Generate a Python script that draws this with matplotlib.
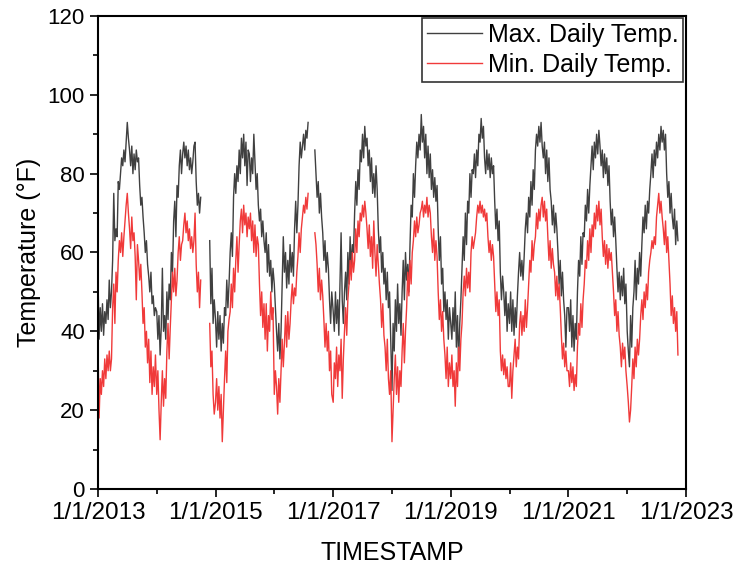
import numpy as np
import pandas as pd
import matplotlib
matplotlib.use("Agg")
import matplotlib.pyplot as plt
import matplotlib.dates as mdates
from matplotlib.ticker import MultipleLocator, FixedLocator, FuncFormatter

plt.rcParams['font.family'] = ['Liberation Sans', 'DejaVu Sans']

nan = np.nan

# weekly readings, one list per calendar year (first value = Jan 1)
max_2013 = [54, 38, 46, 40, 47, 39, 45, 42, 48, 43, 53, 46, 50, 58, 75, 63, 66, 64, 78, 76,
            80, 84, 82, 86, 83, 88, 93, 89, 86, 82, 87, 80, 85, 81, 86, 83, 84, 77, 72, 74,
            69, 65, 60, 63, 57, 54, 50, 55, 47, 49, 44, 46]
min_2013 = [37, 18, 28, 24, 30, 26, 33, 28, 34, 30, 35, 30, 33, 46, 52, 42, 55, 50, 58, 63,
            60, 65, 59, 64, 68, 72, 75, 70, 66, 61, 69, 63, 65, 59, 48, 62, 58, 53, 57, 50,
            42, 46, 36, 40, 32, 38, 27, 35, 24, 31, 26, 34]

max_2014 = [45, 38, 44, 34, 41, 56, 40, 44, 38, 50, 43, 52, 48, 60, 55, 68, 73, 64, 77, 74,
            82, 86, 80, 85, 88, 84, 87, 82, 86, 81, 84, 80, 83, 87, 88, 78, 72, 75, 70, 74,
            nan, nan, nan, nan, nan, nan, nan, 63, 47, 56, 42, 48]
min_2014 = [24, 30, 20, 12.5, 22, 30, 21, 28, 23, 35, 42, 33, 41, 48, 55, 50, 56, 49, 53, 60,
            64, 58, 62, 63, 67, 70, 65, 68, 63, 66, 61, 64, 60, 63, 70, 57, 50, 55, 46, 53,
            nan, nan, nan, nan, nan, nan, nan, 42, 31, 35, 24, 19]

max_2015 = [43, 36, 45, 38, 44, 35, 42, 37, 46, 44, 53, 46, 52, 60, 65, 59, 74, 80, 75, 82,
            78, 86, 80, 89, 84, 90, 82, 88, 77, 86, 85, 78, 84, 80, 90, 83, 76, 80, 72, 68,
            71, 64, 68, 63, 60, 65, 55, 62, 54, 58, 50, 56]
min_2015 = [22, 28, 20, 26, 18, 24, 12, 20, 28, 35, 27, 40, 43, 45, 52, 46, 56, 50, 58, 64,
            55, 62, 68, 71, 65, 72, 67, 70, 64, 69, 66, 70, 63, 68, 60, 67, 59, 64, 62, 52,
            44, 50, 41, 47, 38, 47, 35, 44, 40, 50, 43, 46]

max_2016 = [52, 46, 40, 35, 42, 33, 40, 52, 64, 55, 60, 51, 58, 52, 62, 55, 60, 54, 66, 73,
            65, 72, 82, 88, 84, 87, 90, 86, 91, 89, 93, nan, nan, nan, nan, nan, 86, 80, 74, 78,
            70, 75, 69, 65, 58, 63, 55, 60, 56, 48, 42, 50]
min_2016 = [24, 30, 26, 19, 28, 22, 30, 38, 31, 37, 44, 36, 45, 38, 42, 48, 52, 47, 51, 49,
            55, 59, 65, 60, 66, 69, 72, 70, 74, 71, 75, nan, nan, nan, nan, nan, 65, 62, 57, 50,
            56, 48, 53, 49, 43, 36, 42, 35, 40, 30, 35, 24]

max_2017 = [45, 40, 50, 42, 48, 39, 52, 65, 48, 42, 50, 55, 48, 60, 52, 64, 56, 62, 60, 70,
            78, 72, 81, 76, 86, 83, 90, 84, 92, 87, 89, 82, 86, 78, 84, 75, 80, 74, 82, 76,
            66, 60, 64, 55, 60, 52, 56, 48, 55, 46, 50, 38]
min_2017 = [22, 32, 28, 36, 26, 34, 30, 38, 23, 33, 40, 46, 39, 48, 52, 58, 53, 60, 55, 58,
            66, 60, 68, 64, 70, 68, 72, 69, 73, 70, 66, 61, 67, 59, 64, 56, 68, 60, 54, 62,
            57, 52, 48, 41, 47, 39, 36, 30, 38, 28, 24, 30]

max_2018 = [25, 42, 35, 48, 40, 52, 42, 47, 39, 50, 58, 48, 60, 53, 57, 50, 62, 72, 69, 80,
            74, 82, 88, 84, 90, 86, 95, 88, 92, 84, 90, 80, 87, 79, 85, 76, 81, 74, 79, 73,
            77, 66, 58, 64, 52, 56, 45, 50, 43, 48, 38, 46]
min_2018 = [12, 20, 28, 34, 24, 31, 22, 30, 26, 35, 42, 32, 40, 46, 55, 49, 58, 52, 60, 63,
            68, 64, 69, 65, 67, 70, 71, 73, 69, 72, 70, 74, 69, 72, 70, 64, 60, 66, 58, 63,
            59, 50, 43, 48, 40, 45, 38, 34, 28, 36, 26, 32]

max_2019 = [42, 38, 46, 40, 50, 36, 44, 32, 42, 48, 56, 64, 58, 70, 62, 73, 70, 80, 74, 81,
            80, 85, 79, 86, 82, 90, 88, 94, 89, 92, 84, 80, 86, 81, 85, 79, 84, 80, 82, 73,
            66, 71, 63, 68, 55, 48, 54, 50, 44, 50, 40, 47]
min_2019 = [28, 34, 26, 30, 21, 32, 26, 36, 30, 38, 42, 50, 54, 49, 56, 51, 55, 50, 60, 64,
            61, 63, 65, 69, 72, 70, 73, 70, 72, 69, 71, 68, 70, 64, 60, 63, 58, 62, 59, 52,
            45, 50, 44, 48, 35, 30, 34, 29, 33, 28, 31, 26]

max_2020 = [42, 50, 40, 48, 39, 46, 41, 49, 55, 60, 54, 58, 53, 59, 66, 70, 65, 74, 69, 78,
            72, 81, 76, 86, 90, 87, 92, 88, 93, 87, 84, 88, 80, 86, 78, 84, 76, 73, 67, 72,
            65, 70, 66, 60, 52, 58, 49, 55, 48, 44, 36, 46]
min_2020 = [26, 32, 23, 30, 34, 38, 31, 36, 33, 42, 45, 39, 44, 40, 48, 41, 46, 52, 58, 55,
            63, 58, 62, 64, 70, 66, 71, 68, 72, 74, 69, 73, 68, 71, 64, 58, 63, 56, 61, 57,
            55, 49, 54, 48, 52, 46, 39, 33, 37, 31, 35, 30]

max_2021 = [46, 40, 48, 36, 44, 35, 42, 38, 50, 58, 54, 64, 57, 65, 64, 72, 68, 76, 70, 77,
            82, 87, 81, 88, 84, 90, 85, 91, 87, 82, 86, 79, 85, 80, 84, 77, 82, 73, 67, 71,
            64, 69, 63, 56, 50, 55, 48, 54, 49, 56, 47, 52]
min_2021 = [30, 26, 32, 27, 31, 25, 29, 26, 36, 42, 39, 47, 41, 48, 52, 58, 56, 63, 58, 66,
            60, 67, 64, 70, 66, 72, 68, 73, 67, 71, 64, 59, 63, 57, 62, 56, 61, 58, 60, 55,
            50, 44, 48, 40, 45, 39, 36, 31, 37, 33, 36, 30]

max_2022 = [40, 35, 31, 44, 36, 46, 50, 58, 48, 56, 52, 60, 54, 62, 69, 65, 72, 66, 73, 70,
            76, 80, 85, 79, 86, 82, 88, 84, 90, 86, 92, 88, 91, 86, 90, 80, 74, 78, 70, 75,
            69, 66, 71, 62, 68, 63]
min_2022 = [26, 22, 17, 20, 26, 33, 28, 36, 31, 38, 34, 38, 44, 48, 43, 50, 46, 52, 48, 55,
            58, 60, 63, 61, 64, 62, 69, 72, 75, 70, 73, 69, 66, 62, 68, 60, 64, 58, 52, 44,
            49, 42, 46, 40, 45, 34]

years = list(range(2013, 2023))
max_by_year = [max_2013, max_2014, max_2015, max_2016, max_2017,
               max_2018, max_2019, max_2020, max_2021, max_2022]
min_by_year = [min_2013, min_2014, min_2015, min_2016, min_2017,
               min_2018, min_2019, min_2020, min_2021, min_2022]

major_years = [2013, 2015, 2017, 2019, 2021, 2023]
minor_years = [2014, 2016, 2018, 2020, 2022]

dates = []
tmax = []
tmin = []
for yr, mx, mn in zip(years, max_by_year, min_by_year):
    dates.extend(pd.date_range(f"{yr}-01-01", periods=len(mx), freq="7D"))
    tmax.extend(mx)
    tmin.extend(mn)
dates = pd.DatetimeIndex(dates)

fig = plt.figure(figsize=(7.35, 5.69), dpi=100)
ax = fig.add_axes([0.1333, 0.1406, 0.8, 0.8313])

ax.plot(dates, tmax, color='#404040', lw=1.0, label='Max. Daily Temp.')
ax.plot(dates, tmin, color='#f03a3a', lw=1.0, label='Min. Daily Temp.')

ax.set_xlim(pd.Timestamp('2013-01-01'), pd.Timestamp('2023-01-01'))
ax.set_ylim(0, 120)

ax.xaxis.set_major_locator(FixedLocator(
    mdates.date2num([pd.Timestamp(f"{y}-01-01") for y in major_years])))
ax.xaxis.set_minor_locator(FixedLocator(
    mdates.date2num([pd.Timestamp(f"{y}-01-01") for y in minor_years])))
ax.xaxis.set_major_formatter(FuncFormatter(
    lambda v, pos: (lambda d: f"{d.month}/{d.day}/{d.year}")(mdates.num2date(v))))
ax.yaxis.set_major_locator(MultipleLocator(20))
ax.yaxis.set_minor_locator(MultipleLocator(10))

ax.tick_params(which='both', direction='out', width=1.2, top=False, right=False)
ax.tick_params(axis='y', labelsize=16)
ax.tick_params(axis='x', labelsize=17.5)
ax.tick_params(which='major', length=6)
ax.tick_params(which='minor', length=3.5)
for sp in ax.spines.values():
    sp.set_linewidth(1.5)

ax.set_xlabel('TIMESTAMP', fontsize=18, labelpad=12)
ax.set_ylabel('Temperature (°F)', fontsize=18, labelpad=5)

leg = ax.legend(loc='upper right', fontsize=18, fancybox=False, framealpha=1,
                edgecolor='#333333', borderaxespad=0.1, handlelength=2.2,
                handletextpad=0.25, borderpad=0.18, labelspacing=0.25)
leg.get_frame().set_linewidth(1.2)

fig.savefig('out.png', dpi=100)
